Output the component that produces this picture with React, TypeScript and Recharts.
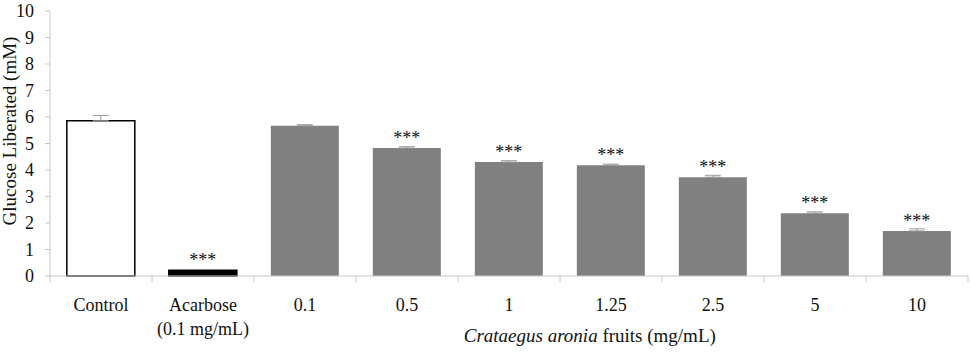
import { BarChart, Bar, XAxis, YAxis, Cell, ErrorBar, LabelList, Label } from 'recharts'

const categories = ['Control', 'Acarbose|(0.1 mg/mL)', '0.1', '0.5', '1', '1.25', '2.5', '5', '10']
const glucose = [5.86, 0.22, 5.67, 4.83, 4.3, 4.18, 3.73, 2.37, 1.7]
const errors = [0.2, 0, 0.04, 0.05, 0.05, 0.04, 0.07, 0.05, 0.08]
const significance = ['', '***', '', '***', '***', '***', '***', '***', '***']
const yTicks = [0, 1, 2, 3, 4, 5, 6, 7, 8, 9, 10]

const fills = ['#ffffff', '#000000', '#808080', '#808080', '#808080', '#808080', '#808080', '#808080', '#808080']
const strokes = ['#000000', '#000000', 'none', 'none', 'none', 'none', 'none', 'none', 'none']

// only the upper half of each error bar shows above the bar
const data = categories.map((name, i) => ({
  name,
  value: glucose[i],
  err: errors[i] ? [0, errors[i]] : null,
  sig: significance[i],
}))

const FONT = '"Liberation Serif", "DejaVu Serif", serif'
const AXIS = '#c8c8c8'
const BAND = 102

function CategoryTick({ x, y, payload, index }: any) {
  const lines = String(payload.value).split('|')
  return (
    <g>
      <line x1={x - BAND / 2} x2={x - BAND / 2} y1={y - 8} y2={y - 2} stroke={AXIS} />
      {index === categories.length - 1 && (
        <line x1={x + BAND / 2} x2={x + BAND / 2} y1={y - 8} y2={y - 2} stroke={AXIS} />
      )}
      {lines.map((t, i) => (
        <text key={i} x={x} y={y + 27 + i * 24} textAnchor="middle" fontSize={18} style={{ fontFamily: FONT }} fill="#111">
          {t}
        </text>
      ))}
    </g>
  )
}

function YTick({ x, y, payload }: any) {
  return (
    <text x={x - 5} y={y + 6} textAnchor="end" fontSize={18} style={{ fontFamily: FONT }} fill="#111">
      {payload.value}
    </text>
  )
}

function SigLabel({ x, y, width, value }: any) {
  if (!value) return null
  return (
    <text x={x + width / 2} y={y - 4} textAnchor="middle" fontSize={18} style={{ fontFamily: FONT }} fill="#111">
      {value}
    </text>
  )
}

function XTitle({ viewBox }: any) {
  const cx = viewBox.x + viewBox.width * 0.588
  return (
    <text x={cx} y={342} textAnchor="middle" fontSize={19} style={{ fontFamily: FONT }} fill="#111">
      <tspan fontStyle="italic">Crataegus aronia</tspan>
      <tspan> fruits (mg/mL)</tspan>
    </text>
  )
}

function YTitle() {
  return (
    <text x={16} y={131} transform="rotate(-90, 16, 131)" textAnchor="middle" fontSize={19} style={{ fontFamily: FONT }} fill="#111">
      Glucose Liberated (mM)
    </text>
  )
}

export default function App() {
  return (
    <div style={{ position: 'absolute', left: 0, top: 0, background: '#fff', fontFamily: FONT }}>
      <BarChart
        width={971}
        height={356}
        data={data}
        margin={{ top: 11, right: 3, bottom: 0, left: 8 }}
        barCategoryGap="16.5%"
      >
        <XAxis
          dataKey="name"
          interval={0}
          height={80}
          axisLine={{ stroke: AXIS }}
          tickLine={false}
          tick={<CategoryTick />}
        >
          <Label content={<XTitle />} />
        </XAxis>
        <YAxis
          domain={[0, 10]}
          ticks={yTicks}
          width={42}
          axisLine={{ stroke: AXIS }}
          tickLine={{ stroke: AXIS }}
          tickSize={5}
          tickMargin={6}
          tick={<YTick />}
        >
          <Label content={<YTitle />} />
        </YAxis>
        <Bar dataKey="value" isAnimationActive={false}>
          {data.map((d, i) => (
            <Cell key={d.name} fill={fills[i]} stroke={strokes[i]} strokeWidth={1.5} />
          ))}
          <ErrorBar dataKey="err" width={8} stroke="#999" strokeWidth={1} direction="y" />
          <LabelList dataKey="sig" content={<SigLabel />} />
        </Bar>
      </BarChart>
    </div>
  )
}
